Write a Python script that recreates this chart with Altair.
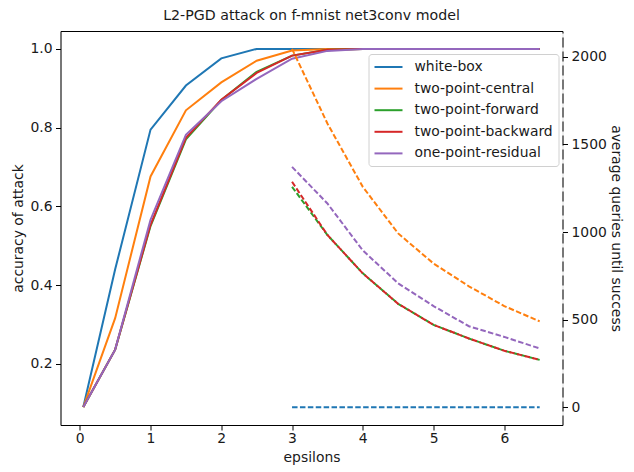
import altair as alt
import pandas as pd

methods = ["white-box", "two-point-central", "two-point-forward", "two-point-backward", "one-point-residual"]
colors = ["#1f77b4", "#ff7f0e", "#2ca02c", "#d62728", "#9467bd"]

eps = [0.05, 0.5, 1.0, 1.5, 2.0, 2.5, 3.0, 3.5, 4.0, 4.5, 5.0, 5.5, 6.0, 6.5]
acc_white = [0.09, 0.44, 0.795, 0.907, 0.976, 1.0, 1.0, 1.0, 1.0, 1.0, 1.0, 1.0, 1.0, 1.0]
acc_central = [0.09, 0.316, 0.676, 0.844, 0.915, 0.970, 0.996, 1.0, 1.0, 1.0, 1.0, 1.0, 1.0, 1.0]
acc_forward = [0.09, 0.236, 0.550, 0.770, 0.870, 0.942, 0.983, 0.998, 1.0, 1.0, 1.0, 1.0, 1.0, 1.0]
acc_backward = [0.09, 0.236, 0.553, 0.774, 0.871, 0.939, 0.983, 0.998, 1.0, 1.0, 1.0, 1.0, 1.0, 1.0]
acc_residual = [0.09, 0.236, 0.566, 0.782, 0.867, 0.924, 0.975, 0.995, 1.0, 1.0, 1.0, 1.0, 1.0, 1.0]

q_eps = [3.0, 3.5, 4.0, 4.5, 5.0, 5.5, 6.0, 6.5]
q_white = [0, 0, 0, 0, 0, 0, 0, 0]
q_central = [2046, 1620, 1258, 992, 820, 690, 577, 490]
q_forward = [1258, 983, 764, 590, 470, 392, 322, 270]
q_backward = [1287, 983, 764, 590, 470, 392, 322, 270]
q_residual = [1372, 1163, 895, 707, 577, 462, 401, 335]

acc_series = [acc_white, acc_central, acc_forward, acc_backward, acc_residual]
q_series = [q_white, q_central, q_forward, q_backward, q_residual]

acc_rows = []
for i, (m, s) in enumerate(zip(methods, acc_series)):
    for e, v in zip(eps, s):
        acc_rows.append({"method": m, "order": i, "eps": e, "acc": v})
q_rows = []
for i, (m, s) in enumerate(zip(methods, q_series)):
    for e, v in zip(q_eps, s):
        q_rows.append({"method": m, "order": i, "eps": e, "q": v})
acc_df = pd.DataFrame(acc_rows)
q_df = pd.DataFrame(q_rows)

FONT = "DejaVu Sans"
TXT = "#1a1a1a"
FS = 13.9

xscale = alt.Scale(domain=[-0.2725, 6.8225], nice=False, zero=False)
color = alt.Color(
    "method:N",
    scale=alt.Scale(domain=methods, range=colors),
    sort=methods,
    legend=alt.Legend(
        title=None, orient="none", legendX=308, legendY=23,
        symbolType="M-1,0H3", symbolSize=196, symbolStrokeWidth=2,
        labelFontSize=FS, labelFont=FONT, labelColor=TXT, labelOffset=25,
        rowPadding=6.6, padding=5, fillColor="rgba(255,255,255,0.8)",
        strokeColor="#d0d0d0", cornerRadius=3,
    ),
)

acc_chart = alt.Chart(acc_df).mark_line(strokeWidth=2).encode(
    x=alt.X("eps:Q", scale=xscale, axis=alt.Axis(
        values=[0, 1, 2, 3, 4, 5, 6], title="epsilons", grid=False,
        domainColor="black", tickColor="black", tickSize=5, labelPadding=1.5,
        labelFontSize=FS, labelFont=FONT, labelColor=TXT,
        titleFontSize=FS, titleFont=FONT, titleColor=TXT, titleFontWeight="normal", titlePadding=5.5,
    )),
    y=alt.Y("acc:Q", scale=alt.Scale(domain=[0.0445, 1.0455], nice=False, zero=False), axis=alt.Axis(
        values=[0.2, 0.4, 0.6, 0.8, 1.0], format=".1f", title="accuracy of attack", grid=False,
        domainColor="black", tickColor="black", tickSize=5, labelPadding=3.5,
        labelFontSize=FS, labelFont=FONT, labelColor=TXT,
        titleFontSize=FS, titleFont=FONT, titleColor=TXT, titleFontWeight="normal", titlePadding=4,
    )),
    color=color,
    detail="order:O",
    order="order:O",
)

q_chart = alt.Chart(q_df).mark_line(strokeWidth=2, strokeDash=[5.5, 2.4]).encode(
    x=alt.X("eps:Q", scale=xscale, axis=alt.Axis(
        orient="top", labels=False, ticks=False, title=None, grid=False, domainColor="black",
    )),
    y=alt.Y("q:Q", scale=alt.Scale(domain=[-102, 2148], nice=False, zero=False), axis=alt.Axis(
        orient="right", values=[0, 500, 1000, 1500, 2000], format="d", title="average queries until success",
        grid=False, domainColor="black", domainDash=[10, 4], tickColor="black", tickSize=5, labelPadding=3.5,
        labelFontSize=FS, labelFont=FONT, labelColor=TXT,
        titleFontSize=FS, titleFont=FONT, titleColor=TXT, titleFontWeight="normal", titlePadding=2,
    )),
    color=alt.Color("method:N", scale=alt.Scale(domain=methods, range=colors), legend=None),
    detail="order:O",
    order="order:O",
)

chart = alt.layer(acc_chart, q_chart).resolve_scale(y="independent").resolve_axis(x="independent").properties(
    width=502, height=394,
    padding={"left": 3.5, "top": 0, "right": 3, "bottom": 0},
    title=alt.TitleParams("L2-PGD attack on f-mnist net3conv model", fontSize=14.2, font=FONT,
                          color=TXT, fontWeight="normal", offset=8),
).configure_view(stroke=None).configure(background="white")

chart.save("out.html", embed_options={"renderer": "svg", "actions": False})
